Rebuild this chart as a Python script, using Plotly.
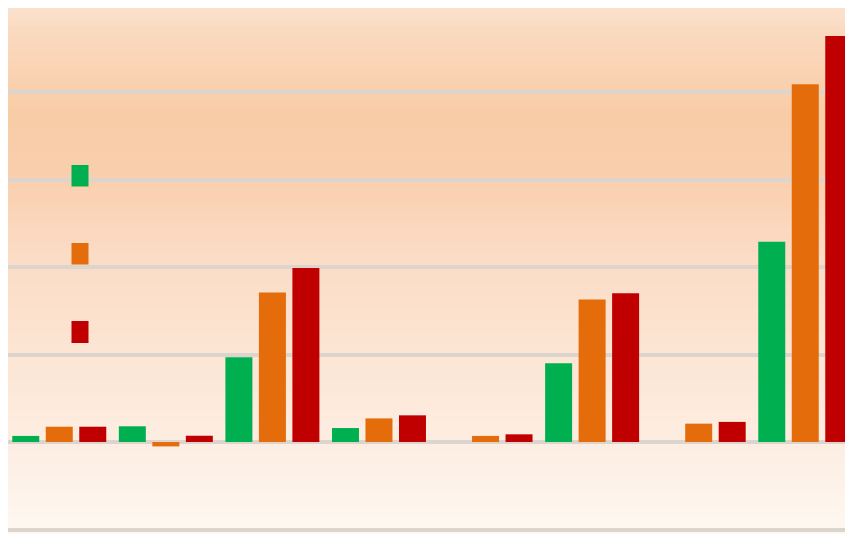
import plotly.graph_objects as go

# ---- data ----
categories = ["C1", "C2", "C3", "C4", "C5", "C6", "C7", "C8"]
series_names = ["Series 1", "Series 2", "Series 3"]
green_vals = [0.07, 0.18, 0.97, 0.16, 0.0, 0.90, 0.0, 2.29]
orange_vals = [0.175, -0.05, 1.71, 0.27, 0.07, 1.63, 0.21, 4.09]
red_vals = [0.175, 0.072, 1.99, 0.305, 0.088, 1.70, 0.23, 4.64]
colors = ["#00B050", "#E46C0A", "#C00000"]

# page body has an 8px default margin; size figure to fit the window
OFF = 8
W, H = 853 - OFF, 534 - OFF
PW, PH = W, H

fig = go.Figure()
for name, vals, col in zip(series_names, [green_vals, orange_vals, red_vals], colors):
    fig.add_trace(go.Bar(x=categories, y=vals, name=name, marker_color=col,
                         marker_line_width=0, showlegend=False))

def px_to_paper_x(px):  # px in window coords
    return (px - OFF) / PW

def px_to_paper_y(py):
    return (H - (py - OFF)) / PH

shapes = []
stops = [(0, (251, 228, 208)), (40, (250, 216, 189)), (110, (249, 204, 167)),
         (170, (249, 206, 171)), (250, (251, 219, 196)), (350, (252, 229, 211)),
         (440, (253, 237, 225)), (534, (254, 248, 241))]
def col_at(py):
    for (y0, c0), (y1, c1) in zip(stops[:-1], stops[1:]):
        if y0 <= py <= y1:
            f = (py - y0) / (y1 - y0)
            return tuple(round(a + (b - a) * f) for a, b in zip(c0, c1))
    return stops[-1][1]
step = 6
for py in range(OFF, 534, step):
    c = col_at(py + step / 2)
    shapes.append(dict(type="rect", xref="paper", yref="paper", layer="below",
                       x0=0, x1=1, y0=max(0, px_to_paper_y(py + step)), y1=px_to_paper_y(py),
                       fillcolor="rgb(%d,%d,%d)" % c, line_width=0))
for col, (y0, y1) in zip(colors, [(165, 186.5), (243, 264.5), (321, 343)]):
    shapes.append(dict(type="rect", xref="paper", yref="paper", layer="above",
                       x0=px_to_paper_x(71.5), x1=px_to_paper_x(88.5),
                       y0=px_to_paper_y(y1), y1=px_to_paper_y(y0),
                       fillcolor=col, line_width=0))

grid_col = "#DCD5CE"
fig.update_layout(
    width=W, height=H,
    margin=dict(l=0, r=0, t=0, b=0, pad=0),
    paper_bgcolor="#FCE6D6",
    plot_bgcolor="#FCE0C8",
    barmode="group", bargap=0.057, bargroupgap=0.194,
    shapes=shapes,
    showlegend=False,
    xaxis=dict(range=[-0.481, 7.448], showticklabels=False, showgrid=False,
               zeroline=False, ticks="", showline=False),
    yaxis=dict(range=[-1.051, 4.96], dtick=1, tick0=0, showticklabels=False,
               showgrid=True, gridcolor=grid_col, gridwidth=4,
               zeroline=True, zerolinecolor=grid_col, zerolinewidth=4,
               ticks="", showline=False),
)

fig.write_html("out.html")
